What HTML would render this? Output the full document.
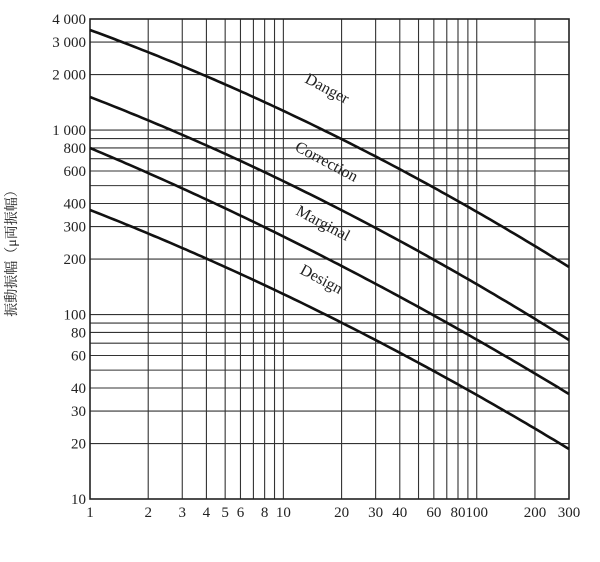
<!DOCTYPE html>
<html><head><meta charset="utf-8"><style>
body{margin:0;background:#fff;}
svg text{font-family:"Liberation Serif","Noto Serif CJK SC",serif;fill:#222;}
</style></head><body>
<svg id="s" width="600" height="557" xmlns="http://www.w3.org/2000/svg">
<g id="grid" stroke="#333" stroke-width="1.1"></g>
<rect x="90" y="19" width="479" height="480" fill="none" stroke="#222" stroke-width="1.6"/>
<g id="curves" fill="none" stroke="#111" stroke-width="2.6"></g>
<g id="lab" font-size="15"></g>
<g font-size="16">
<text transform="translate(304,82) rotate(28)">Danger</text>
<text transform="translate(294,150) rotate(28)">Correction</text>
<text transform="translate(295,214) rotate(28)">Marginal</text>
<text transform="translate(299,273) rotate(28)">Design</text>
</g>
<text transform="translate(16,250) rotate(-90)" text-anchor="middle" font-size="14">振動振幅（μ両振幅）</text>
</svg>
<script>
var NS="http://www.w3.org/2000/svg";
function el(p,t,a,txt){var e=document.createElementNS(NS,t);for(var k in a)e.setAttribute(k,a[k]);if(txt)e.textContent=txt;document.getElementById(p).appendChild(e);}
var X=function(v){return 90+Math.log10(v)/Math.log10(300)*479;};
var Y=function(v){return 19+Math.log10(4000/v)*184.5;};
var xs=[2,3,4,5,6,7,8,9,10,20,30,40,50,60,70,80,90,100,200];
xs.forEach(function(v){el("grid","line",{x1:X(v),x2:X(v),y1:19,y2:499});});
var ys=[20,30,40,50,60,70,80,90,100,200,300,400,500,600,700,800,900,1000,2000,3000];
ys.forEach(function(v){el("grid","line",{x1:90,x2:569,y1:Y(v),y2:Y(v)});});
[1,2,3,4,5,6,8,10,20,30,40,60,80,100,200,300].forEach(function(v){el("lab","text",{x:X(v),y:517,"text-anchor":"middle"},String(v));});
[10,20,30,40,60,80,100,200,300,400,600,800,1000,2000,3000,4000].forEach(function(v){var s=v>=1000?String(v).replace(/(\d)(\d{3})$/,"$1 $2"):String(v);el("lab","text",{x:86,y:Y(v)+5,"text-anchor":"end"},s);});
var C=[[30,100,267],[97,170,340],[148,225,394],[210,283,449]];
var xa=90,xb=260,xc=569;
C.forEach(function(c){var d="";for(var x=90;x<=569;x+=4){var y=c[0]*(x-xb)*(x-xc)/((xa-xb)*(xa-xc))+c[1]*(x-xa)*(x-xc)/((xb-xa)*(xb-xc))+c[2]*(x-xa)*(x-xb)/((xc-xa)*(xc-xb));d+=(d?"L":"M")+x+","+y.toFixed(1);}
d+="L569,"+c[2];el("curves","path",{d:d});});
</script>
</body></html>
